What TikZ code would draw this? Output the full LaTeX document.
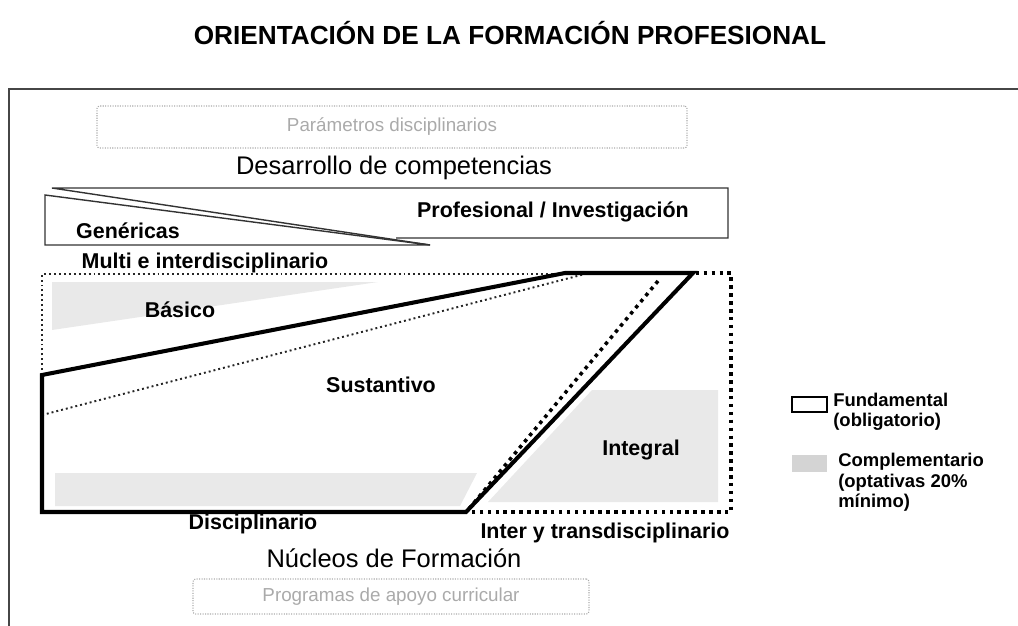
\documentclass[tikz,border=0pt]{standalone}
\usepackage{fontspec}
\setmainfont{Liberation Sans}
\usepackage{tikz}
\usetikzlibrary{positioning}
\definecolor{FillGray}{RGB}{233,233,233}
\definecolor{KeyGray}{RGB}{212,212,212}
\definecolor{BoxGray}{RGB}{170,170,170}
\definecolor{FrameGray}{RGB}{70,70,70}

\begin{document}
\begin{tikzpicture}
	\tikzset{
		lbl/.style={font=\fontsize{12.2}{14}\selectfont\bfseries, inner sep=0pt},
		big/.style={font=\fontsize{14.5}{17}\selectfont, inner sep=0pt},
		gbox/.style={draw=BoxGray, line width=0.6pt, dash pattern=on 0.6pt off 0.8pt,
			rounded corners=1.5pt, text=BoxGray, font=\fontsize{10.7}{13}\selectfont},
		thin/.style={draw=black!80, line width=0.8pt},
		fund/.style={draw=black, line width=2.3pt},
		sdot/.style={draw=black!85, line width=1.1pt, dash pattern=on 1.1pt off 1.7pt},
		bdot/.style={draw=black, line width=2pt, dash pattern=on 2pt off 2.5pt},
		key/.style={font=\fontsize{10.5}{11.6}\selectfont\bfseries, inner sep=0pt, align=left}
	}
	\useasboundingbox (0,0) rectangle (20.36,-12.5);
	
	% frame and title
	\draw[FrameGray, line width=1.1pt] (0.18,-12.6) -- (0.18,-1.78) -- (20.5,-1.78);
	\node[font=\fontsize{14.9}{17}\selectfont\bfseries, inner sep=0pt] (title) at (10.2,-0.66) {ORIENTACIÓN DE LA FORMACIÓN PROFESIONAL};
	
	% top part
	\node[gbox, minimum width=11.8cm, minimum height=0.84cm] (param) at (7.84,-2.54) {Parámetros disciplinarios};
	\node[big] (desarrollo) at (7.88,-3.36) {Desarrollo de competencias};
	\draw[thin] (8.6,-4.9) -- (1.04,-3.76) -- (14.56,-3.76) -- (14.56,-4.76) -- (7.92,-4.76);
	\draw[thin] (0.9,-3.9) -- (0.9,-4.9) -- (8.6,-4.9) -- cycle;
	\node[lbl] (profesional) at (11.06,-4.24) {Profesional / Investigación};
	\node[lbl] (genericas) at (2.56,-4.62) {Genéricas};
	\node[lbl] (multi) at (4.1,-5.26) {Multi e interdisciplinario};
	
	% complementary areas
	\fill[FillGray] (1.04,-5.64) -- (7.56,-5.64) -- (1.04,-6.6) -- cycle;
	\fill[FillGray] (1.1,-9.46) -- (9.54,-9.46) -- (9.2,-10.12) -- (1.1,-10.12) -- cycle;
	\fill[FillGray] (11.84,-7.8) -- (14.36,-7.8) -- (14.36,-10.04) -- (9.76,-10.04) -- cycle;
	
	% boundaries
	\draw[sdot] (0.84,-7.5) -- (0.84,-5.48) -- (11.3,-5.48);
	\draw[sdot] (0.84,-8.3) -- (11.7,-5.48);
	\draw[bdot] (13.6,-5.46) -- (14.62,-5.46) -- (14.62,-10.24) -- (9.32,-10.24);
	\draw[bdot] (13.16,-5.62) -- (9.36,-10.2);
	\draw[fund] (0.84,-7.5) -- (0.84,-10.24) -- (9.32,-10.24) -- (13.86,-5.46) -- (11.3,-5.46) -- cycle;
	
	\node[lbl] (basico) at (3.6,-6.2) {Básico};
	\node[lbl] (sustantivo) at (7.62,-7.7) {Sustantivo};
	\node[lbl] (integral) at (12.82,-9.0) {Integral};
	\node[lbl] (disciplinario) at (5.06,-10.48) {Disciplinario};
	\node[lbl] (inter) at (12.1,-10.66) {Inter y transdisciplinario};
	
	% bottom part
	\node[big] (nucleos) at (7.88,-11.16) {Núcleos de Formación};
	\node[gbox, minimum width=7.92cm, minimum height=0.7cm] (apoyo) at (7.82,-11.93) {Programas de apoyo curricular};
	
	% legend
	\node[draw=black, line width=0.8pt, minimum width=0.7cm, minimum height=0.3cm, inner sep=0pt] (keyfund) at (16.19,-8.09) {};
	\node[fill=KeyGray, minimum width=0.7cm, minimum height=0.34cm, inner sep=0pt] (keycomp) at (16.19,-9.27) {};
	\node[key, anchor=north west] (txtfund) at ([xshift=3pt, yshift=2pt]keyfund.north east) {Fundamental\\(obligatorio)};
	\node[key, anchor=north west] (txtcomp) at ([xshift=6pt, yshift=1pt]keycomp.north east) {Complementario\\(optativas 20\%\\mínimo)};
\end{tikzpicture}
\end{document}
